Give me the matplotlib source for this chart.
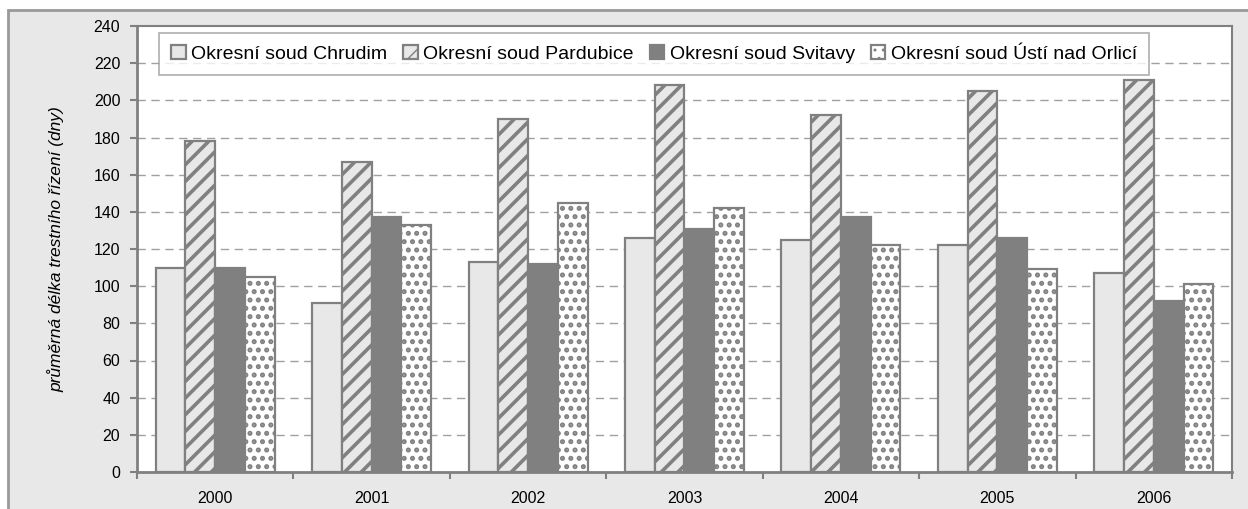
import matplotlib
matplotlib.use("Agg")
import matplotlib.pyplot as plt
import numpy as np
from matplotlib.patches import Rectangle

# data
years = ["2000", "2001", "2002", "2003", "2004", "2005", "2006"]
chrudim = [110, 91, 113, 126, 125, 122, 107]
pardubice = [178, 167, 190, 208, 192, 205, 211]
svitavy = [110, 137, 112, 131, 137, 126, 92]
usti = [105, 133, 145, 142, 122, 109, 101]
series_names = ["Okresní soud Chrudim", "Okresní soud Pardubice",
                "Okresní soud Svitavy", "Okresní soud Ústí nad Orlicí"]

GRAY = "#808080"
LIGHT = "#e8e8e8"

plt.rcParams["font.family"] = ["Liberation Sans", "DejaVu Sans"]
plt.rcParams["hatch.color"] = GRAY

W, H = 1248, 509
fig = plt.figure(figsize=(W / 100, H / 100), dpi=100)
fig.patch.set_facecolor("white")

# gray chart frame behind everything
fig.patches.append(Rectangle((8 / W, -0.1), 1.1, (H - 10) / H + 0.1,
                             transform=fig.transFigure, facecolor=LIGHT,
                             edgecolor="#999999", linewidth=2, zorder=-10))

ax = fig.add_axes([137 / W, (H - 472) / H, (1232 - 137) / W, (472 - 26) / H])
ax.set_facecolor("white")

x = np.arange(len(years))
bw = 0.19
styles = [
    dict(facecolor=LIGHT, hatch=None, hlw=1),
    dict(facecolor=LIGHT, hatch="//", hlw=2.6),
    dict(facecolor=GRAY, hatch=None, hlw=1),
    dict(facecolor="white", hatch="..", hlw=2.4),
]
handles = []
for i, (vals, st) in enumerate(zip([chrudim, pardubice, svitavy, usti], styles)):
    with plt.rc_context({"hatch.linewidth": st["hlw"]}):
        b = ax.bar(x + (i - 1.5) * bw, vals, bw, facecolor=st["facecolor"],
                   hatch=st["hatch"], edgecolor=GRAY, linewidth=1.6, zorder=3,
                   label=series_names[i])
    handles.append(b)

ax.set_xlim(-0.5, len(years) - 0.5)
ax.set_ylim(0, 240)
ax.set_yticks(np.arange(0, 241, 20))
ax.set_xticks(x)
ax.set_xticklabels(years)
ax.set_xticks(np.arange(-0.5, len(years)), minor=True)

ax.tick_params(axis="x", which="major", length=0, pad=14, labelsize=11.5)
ax.tick_params(axis="x", which="minor", length=5, width=1.5, color=GRAY)
ax.tick_params(axis="y", length=5, width=1.5, color=GRAY, pad=7, labelsize=11.5)

for yv in range(20, 240, 20):
    ax.axhline(yv, color="#a0a0a0", linewidth=1, dashes=(6, 4), zorder=1)

for side in ["left", "bottom"]:
    ax.spines[side].set_color(GRAY)
    ax.spines[side].set_linewidth(2)
for side in ["top", "right"]:
    ax.spines[side].set_color(GRAY)
    ax.spines[side].set_linewidth(1.5)

ax.set_ylabel("průměrná délka trestního řízení (dny)", fontsize=12.5,
              style="italic")
ax.yaxis.set_label_coords(-0.066, 0.5)

leg = ax.legend(handles=handles, loc="upper left", bbox_to_anchor=(0.02, 0.985),
                borderaxespad=0, ncol=4, fancybox=False, edgecolor="#999999",
                fontsize=14, handlelength=0.75, handleheight=0.75,
                handletextpad=0.3, columnspacing=0.8, borderpad=0.62)
leg.get_frame().set_linewidth(1.2)
leg.set_zorder(5)

fig.savefig("out.png", dpi=100)
